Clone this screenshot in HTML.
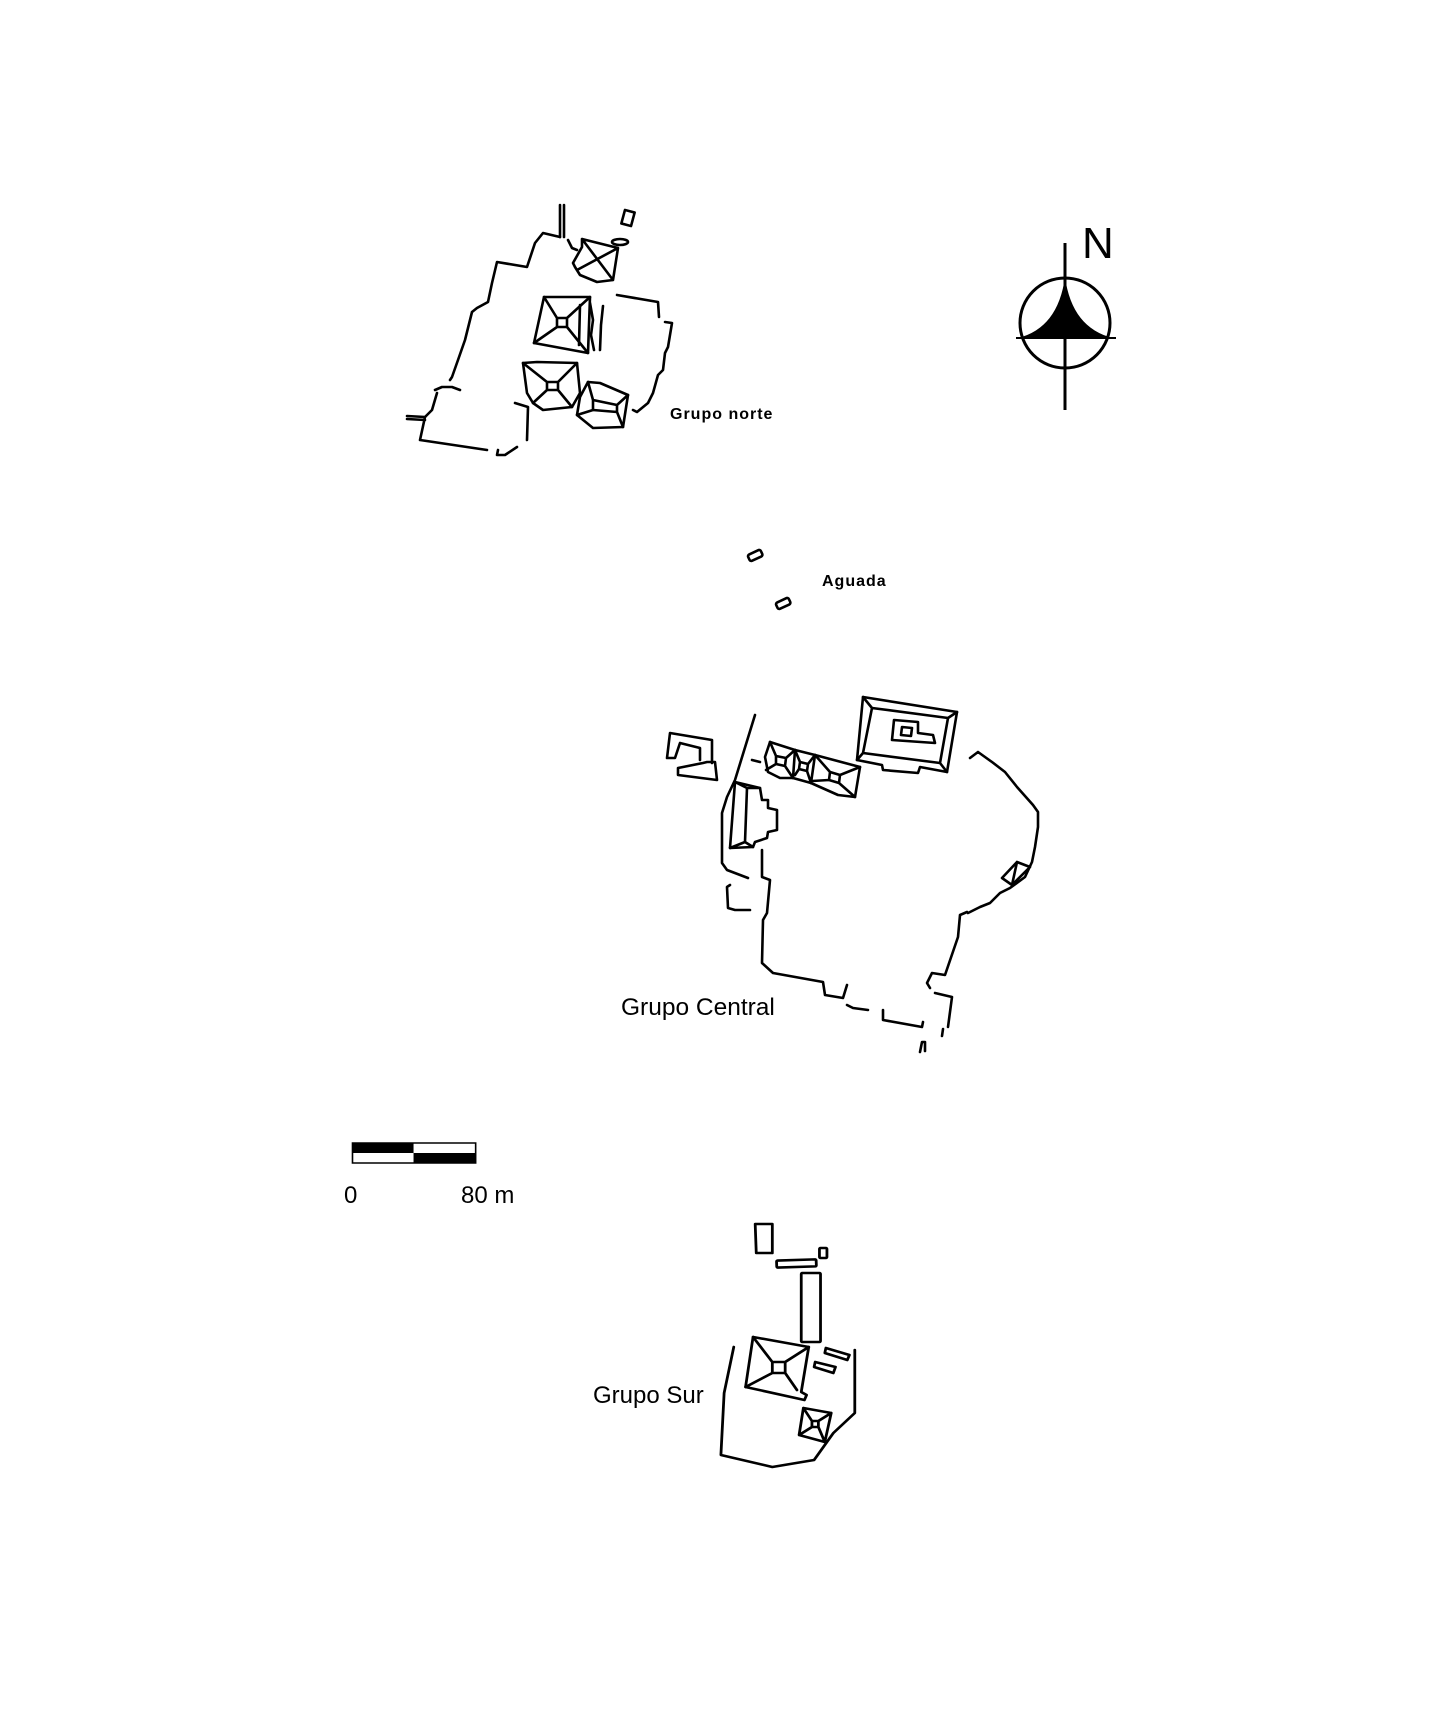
<!DOCTYPE html>
<html><head><meta charset="utf-8"><style>
html,body{margin:0;padding:0;background:#fff;}
svg{display:block;}
</style></head><body>
<svg width="1430" height="1721" viewBox="0 0 1430 1721" xmlns="http://www.w3.org/2000/svg">
<rect width="1430" height="1721" fill="#fff"/>
<g fill="none" stroke="#000" stroke-width="2.6" stroke-linejoin="round" stroke-linecap="round">
<!-- Grupo norte -->
<path d="M560,205 V237 M564,205 V237"/>
<path d="M560,237 L543,233 L535,243 L527,267 L497,262 L492,283 L488,302 L477,308 L472,312 L465,340 L458,360 L452,377 L450,380"/>
<path d="M435,390 L442,387 L452,387 L460,390"/>
<path d="M437,393 L432,410 L425,417 L420,440 L487,450"/>
<path d="M407,416 L425,417 M407,419 L425,420"/>
<path d="M498,450 L497,455 L505,455 L517,447"/>
<path d="M515,403 L528,407 L527,440"/>
<path d="M568,240 L572,248 L577,250"/>
<path d="M582,239 L618,248 L613,280 L597,282 L580,275 L575,267 L573,263 L582,247 Z M582,239 L613,280 M618,248 L577,270"/>
<ellipse cx="620" cy="242" rx="8" ry="3"/>
<rect x="623" y="211" width="10" height="14" transform="rotate(15 628 218)"/>
<path d="M544,297 L590,297 L588,353 L534,343 Z"/>
<path d="M557,318 L567,318 L567,327 L557,327 Z M544,297 L557,318 M590,297 L567,318 M588,353 L567,327 M534,343 L557,327"/>
<path d="M580,305 L579,345 M590,303 L593,320 L591,335 L594,350 M603,306 L601,325 L600,350"/>
<path d="M617,295 L658,302 L659,317"/>
<path d="M665,322 L672,323 L668,347 L665,353 L663,370 L658,375 L653,393 L648,403 L637,412 L633,410"/>
<path d="M523,363 L537,362 L577,363 L580,393 L572,407 L543,410 L533,403 L527,393 Z"/>
<path d="M547,382 L558,382 L558,390 L547,390 Z M523,363 L547,382 M577,363 L558,382 M572,407 L558,390 M533,403 L547,390"/>
<path d="M588,382 L600,383 L628,395 L623,427 L593,428 L577,415 L580,397 Z"/>
<path d="M593,400 L617,405 L617,412 L593,410 Z M588,382 L593,400 M628,395 L617,405 M623,427 L617,412 M577,415 L593,410"/>
<!-- Aguada -->
<rect x="748" y="552" width="14" height="7" rx="2" transform="rotate(-25 755 555)"/>
<rect x="776" y="600" width="14" height="7" rx="2" transform="rotate(-25 783 603)"/>
<!-- Grupo Central -->
<path d="M700,760 L700,748 L680,743 L675,758 L667,758 L670,733 L712,740 L712,763"/>
<path d="M678,768 L703,763 L707,762 L715,762 L717,780 L678,775 Z"/>
<path d="M755,715 L735,780 L727,797 L722,813 L722,863 L727,870 L748,878"/>
<path d="M752,760 L760,762"/>
<path d="M770,742 L795,750 L793,778 L780,778 L768,772 L765,757 Z"/>
<path d="M776,756 L786,758 L785,766 L776,764 Z M770,742 L776,756 M795,750 L786,758 M793,778 L785,766 M766,770 L776,764"/>
<path d="M795,750 L815,755 L811,783 L793,778"/>
<path d="M800,762 L808,764 L807,771 L799,769 Z M795,750 L800,762 M815,755 L808,764 M811,783 L807,771 M795,775 L799,769"/>
<path d="M815,755 L860,767 L855,797 L838,795 L811,783"/>
<path d="M830,772 L840,775 L839,783 L829,780 Z M815,755 L830,772 M860,767 L840,775 M855,797 L839,783 M812,781 L829,780"/>
<path d="M863,697 L957,712 L947,772 L920,767 L918,773 L883,770 L882,765 L857,760 Z"/>
<path d="M872,708 L948,718 L940,763 L863,753 Z M863,697 L872,708 M957,712 L948,718 M947,772 L940,763 M857,760 L863,753"/>
<path d="M894,720 L918,722 L918,733 L933,735 L935,743 L892,740 Z M902,727 L912,728 L911,736 L901,735 Z"/>
<path d="M735,782 L760,788 L762,800 L768,800 L768,808 L777,810 L777,830 L768,832 L767,838 L755,842 L753,847 L730,848 Z"/>
<path d="M747,788 L745,842 M735,782 L747,788 M730,848 L745,842 M760,788 L747,788 M753,847 L745,842"/>
<path d="M762,850 L762,877 L770,880 L767,913 L763,920 L762,963 L773,973 L823,982 L825,995 L843,998 L847,985"/>
<path d="M730,885 L727,887 L728,908 L735,910 L750,910"/>
<path d="M847,1005 L853,1008 L868,1010"/>
<path d="M883,1010 L883,1020 L922,1027 L923,1022"/>
<path d="M935,993 L952,997 L948,1027"/>
<path d="M943,1029 L942,1036"/>
<path d="M920,1052 L922,1042 L925,1042 L925,1051"/>
<path d="M930,988 L927,983 L932,973 L945,975 L958,937 L960,915 L967,912"/>
<path d="M968,913 L980,907 L990,903 L1000,893 L1010,888 L1025,877 L1032,862 L1035,847 L1038,827 L1038,812 L1033,805 L1017,787 L1005,772 L992,762 L978,752 L970,758"/>
<path d="M1002,878 L1017,862 L1030,867 L1012,885 Z M1017,862 L1012,885"/>
<!-- Grupo Sur -->
<g transform="translate(330,0) scale(1.071,1) translate(-330,0)">
<path d="M727,1224 L743,1224 L743,1253 L728,1253 Z"/>
<rect x="747" y="1260" width="37" height="7" rx="1" transform="rotate(-2 765 1263)"/>
<rect x="787" y="1248" width="7" height="10" rx="1"/>
<rect x="770" y="1273" width="18" height="69" rx="1"/>
<path d="M725,1337 L777,1347 L770,1392 L775,1395 L773,1400 L718,1387 Z"/>
<path d="M743,1362 L755,1362 L755,1373 L743,1373 Z M725,1337 L743,1362 M777,1347 L755,1362 M766,1390 L755,1373 M718,1387 L743,1373"/>
<path d="M793,1348 L815,1355 L813,1360 L792,1353 Z"/>
<path d="M783,1362 L802,1367 L800,1373 L782,1367 Z"/>
<path d="M707,1347 L698,1393 L695,1455 L743,1467 L782,1460 L800,1433 L820,1413 L820,1350"/>
<path d="M772,1408 L798,1413 L792,1442 L768,1435 Z M780,1421 L786,1421 L786,1427 L780,1427 Z M772,1408 L780,1421 M798,1413 L786,1421 M792,1442 L786,1427 M768,1435 L780,1427"/>
</g>
</g>
<!-- scale bar -->
<g transform="translate(330,0) scale(1.071,1) translate(-330,0)">
<rect x="351" y="1143" width="115" height="20" fill="#fff" stroke="#000" stroke-width="1.5"/>
<rect x="351" y="1143" width="57" height="10" fill="#000"/>
<rect x="408" y="1153" width="58" height="10" fill="#000"/>
</g>
<!-- compass -->
<g stroke="#000" fill="none">
<circle cx="1065" cy="323" r="45" stroke-width="3"/>
<line x1="1065" y1="243" x2="1065" y2="410" stroke-width="3"/>
<line x1="1016" y1="338" x2="1116" y2="338" stroke-width="2"/>
</g>
<path d="M1065,277 Q1058,328 1018,338 L1113,338 Q1072,328 1065,277 Z" fill="#000"/>
<g font-family="Liberation Sans, sans-serif" fill="#000">
<text x="1082" y="258" font-size="44">N</text>
<text x="670" y="419" font-size="16" font-weight="bold" letter-spacing="1">Grupo norte</text>
<text x="822" y="586" font-size="16" font-weight="bold" letter-spacing="1">Aguada</text>
<text x="621" y="1015" font-size="24.5">Grupo Central</text>
<text x="344" y="1203" font-size="24">0</text>
<text x="461" y="1203" font-size="24">80 m</text>
<text x="593" y="1403" font-size="24">Grupo Sur</text>
</g>
</svg>
</body></html>
